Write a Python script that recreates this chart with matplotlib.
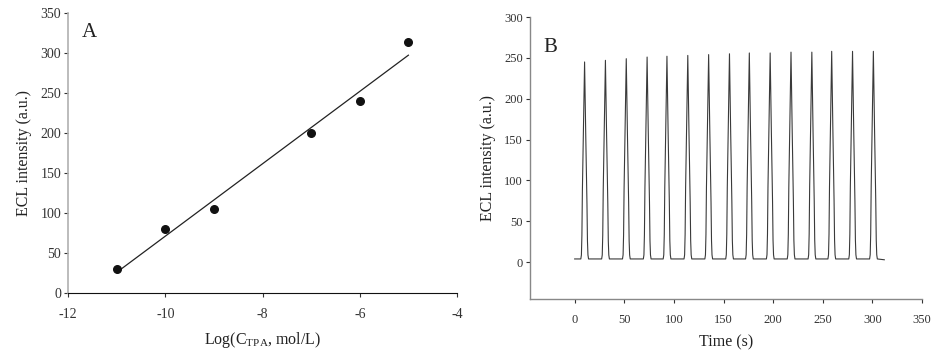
import numpy as np
import matplotlib
matplotlib.use("Agg")
import matplotlib.pyplot as plt

plt.rcParams['font.family'] = ['Liberation Serif', 'DejaVu Serif']
plt.rcParams['axes.unicode_minus'] = False

# Panel A data
log_c = [-11, -10, -9, -7, -6, -5]
ecl_a = [30, 80, 105, 200, 240, 314]
xticks_a = [-12, -10, -8, -6, -4]
yticks_a = [0, 50, 100, 150, 200, 250, 300, 350]

# Panel B data
peak_times = [10, 31, 52, 73, 93, 114, 135, 156, 176, 197, 218, 239, 259, 280, 301]
peak_heights = [245, 247, 249, 251, 252, 253, 254, 255, 256, 256, 257, 257, 258, 258, 258]
baseline = 4
trace_start, trace_end = 0, 312
# peak profile: time offsets (s) and fraction of peak height above baseline
profile_dt = [-3.8, -3.2, -2.7, -2.2, -1.1, 0.0, 1.2, 2.4, 2.9, 3.4, 4.0]
profile_fr = [0.0, 0.02, 0.12, 0.35, 0.68, 1.0, 0.62, 0.28, 0.09, 0.02, 0.0]
xticks_b = [0, 50, 100, 150, 200, 250, 300, 350]
yticks_b = [0, 50, 100, 150, 200, 250, 300]

fig = plt.figure(figsize=(9.38, 3.58), dpi=100)

tick_col = '#333333'

# ---- Panel A ----
axA = fig.add_axes([68/938, 1-293/358, (457-68)/938, (293-13)/358])
axA.scatter(log_c, ecl_a, s=30, color='#111111', zorder=3)
coef = np.polyfit(log_c, ecl_a, 1)
xf = np.array([min(log_c), max(log_c)])
axA.plot(xf, np.polyval(coef, xf), color='#222222', lw=0.9)
axA.set_xlim(-12, -4)
axA.set_ylim(0, 350)
axA.set_xticks(xticks_a)
axA.set_yticks(yticks_a)
axA.spines['top'].set_visible(False)
axA.spines['right'].set_visible(False)
axA.spines['left'].set_color('#b0b0b0')
axA.spines['left'].set_linewidth(1.2)
axA.spines['bottom'].set_color('#111111')
axA.tick_params(labelsize=10, colors=tick_col, length=3, width=0.8, pad=8)
axA.tick_params(axis='y', pad=2)
axA.set_xlabel(r'Log(C$_{\mathregular{TPA}}$, mol/L)', fontsize=11.5, color='#222222', labelpad=6)
axA.set_ylabel('ECL intensity (a.u.)', fontsize=11.5, color='#222222', labelpad=6)
axA.text(0.035, 0.915, 'A', transform=axA.transAxes, fontsize=15, color='#222222')

# ---- Panel B ----
axB = fig.add_axes([530/938, 1-299/358, (922-530)/938, (299-17)/358])
tx = [trace_start]
ty = [baseline]
for t, h in zip(peak_times, peak_heights):
    for dt, fr in zip(profile_dt, profile_fr):
        tx.append(t + dt)
        ty.append(baseline + fr * (h - baseline))
tx.append(trace_end)
ty.append(baseline - 1)
axB.plot(tx, ty, color='#3a3a3a', lw=0.8)
axB.set_xlim(-45, 350)
axB.set_ylim(-45, 300)
axB.set_xticks(xticks_b)
axB.set_yticks(yticks_b)
axB.spines['top'].set_visible(False)
axB.spines['right'].set_visible(False)
for s in ('left', 'bottom'):
    axB.spines[s].set_color('#888888')
    axB.spines[s].set_linewidth(1.0)
axB.tick_params(labelsize=9, colors=tick_col, length=3, width=0.8, pad=8)
axB.tick_params(axis='y', pad=2)
axB.set_xlabel('Time (s)', fontsize=11.5, color='#222222', labelpad=6)
axB.set_ylabel('ECL intensity (a.u.)', fontsize=11.5, color='#222222', labelpad=6)
axB.text(0.035, 0.875, 'B', transform=axB.transAxes, fontsize=15, color='#222222')

fig.savefig('out.png', dpi=100)
